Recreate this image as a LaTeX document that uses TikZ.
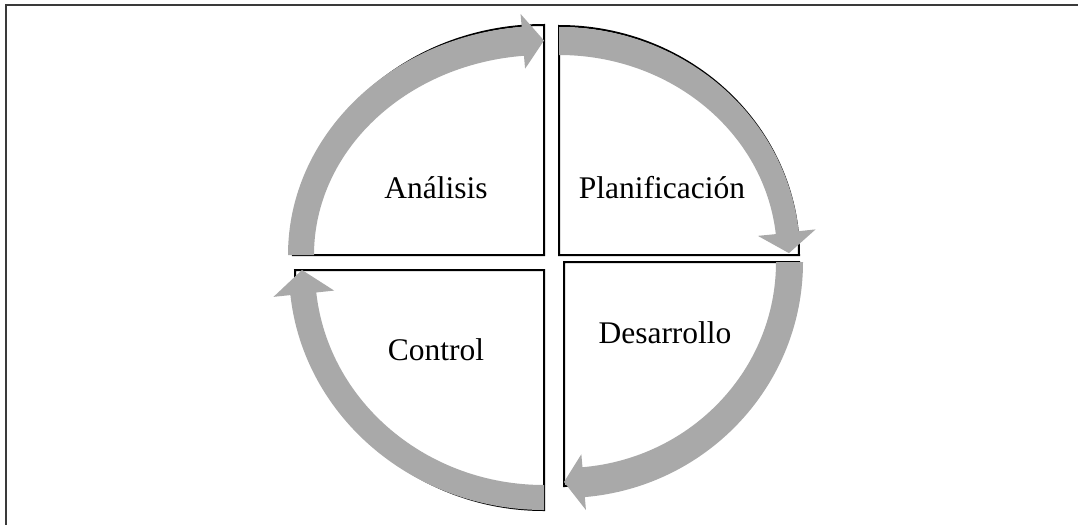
\documentclass[tikz,border=0pt]{standalone}
\usepackage{fontspec}
\setmainfont{Liberation Serif}
\usetikzlibrary{calc}
\definecolor{arrowgray}{HTML}{A9A9A9}
\definecolor{framegray}{HTML}{3A3A3A}
\tikzset{
  quadrant/.style={draw=black, line width=2pt, fill=white, line join=miter},
  cyclearrow/.style={fill=arrowgray, draw=none},
  phaselabel/.style={inner sep=0pt, anchor=base, font=\fontsize{31.5}{36}\selectfont},
  frameline/.style={draw=framegray, line width=1.1pt}
}
\begin{document}
\begin{tikzpicture}[x=1pt, y=-1pt]
  \useasboundingbox (0,0) rectangle (1078,525);
  % outer frame (top and left edges)
  \coordinate (fa) at (1078,5);
  \coordinate (fb) at (6,5);
  \coordinate (fc) at (6,525);
  \draw[frameline] (fa) -- (fb) -- (fc);

  % corners of the four quarter slices
  \coordinate (cTL) at (544,255);
  \coordinate (cTR) at (559,255);
  \coordinate (cBR) at (564,262);
  \coordinate (cBL) at (544,270);

  % quarter slices
  \draw[quadrant] (cTL) -- ($(cTL)+(180:251 and 230)$)
    arc[start angle=180, end angle=270, x radius=251, y radius=230] -- cycle;
  \draw[quadrant] (cTR) -- ($(cTR)+(270:240 and 229)$)
    arc[start angle=270, end angle=360, x radius=240, y radius=229] -- cycle;
  \draw[quadrant] (cBR) -- ($(cBR)+(0:235 and 224)$)
    arc[start angle=0, end angle=90, x radius=235, y radius=224] -- cycle;
  \draw[quadrant] (cBL) -- ($(cBL)+(90:249 and 240)$)
    arc[start angle=90, end angle=180, x radius=249, y radius=240] -- cycle;

  % curved arrows running clockwise
  \fill[cyclearrow] ($(cTL)+(180:256 and 229)$)
    arc[start angle=180, end angle=265, x radius=256, y radius=229]
    -- ($(cTL)+(265:269 and 242)$) -- ($(cTL)+(270:243 and 214.5)$)
    -- ($(cTL)+(265:217 and 187)$) -- ($(cTL)+(265:230 and 200)$)
    arc[start angle=265, end angle=180, x radius=230, y radius=200] -- cycle;

  \fill[cyclearrow] ($(cTR)+(270:241 and 228)$)
    arc[start angle=270, end angle=354, x radius=241, y radius=228]
    -- ($(cTR)+(354:258 and 245)$) -- ($(cTR)+(359.5:230 and 214)$)
    -- ($(cTR)+(354:200 and 183)$) -- ($(cTR)+(354:218 and 200)$)
    arc[start angle=354, end angle=270, x radius=218, y radius=200] -- cycle;

  \fill[cyclearrow] ($(cBR)+(0:239 and 236)$)
    arc[start angle=0, end angle=85, x radius=239, y radius=236]
    -- ($(cBR)+(85:252 and 249)$) -- ($(cBR)+(90:226 and 220)$)
    -- ($(cBR)+(85:199 and 193)$) -- ($(cBR)+(85:212 and 206)$)
    arc[start angle=85, end angle=0, x radius=212, y radius=206] -- cycle;

  \fill[cyclearrow] ($(cBL)+(90:255 and 240)$)
    arc[start angle=90, end angle=174, x radius=255, y radius=240]
    -- ($(cBL)+(174:272 and 257)$) -- ($(cBL)+(180:242 and 228)$)
    -- ($(cBL)+(174:211 and 197)$) -- ($(cBL)+(174:229 and 215)$)
    arc[start angle=174, end angle=90, x radius=229, y radius=215] -- cycle;

  % phase names
  \node[phaselabel] (analisis) at (436,198) {Análisis};
  \node[phaselabel] (planif) at (662,198) {Planificación};
  \node[phaselabel] (desarrollo) at (665,343) {Desarrollo};
  \node[phaselabel] (control) at (436,360) {Control};
\end{tikzpicture}
\end{document}
